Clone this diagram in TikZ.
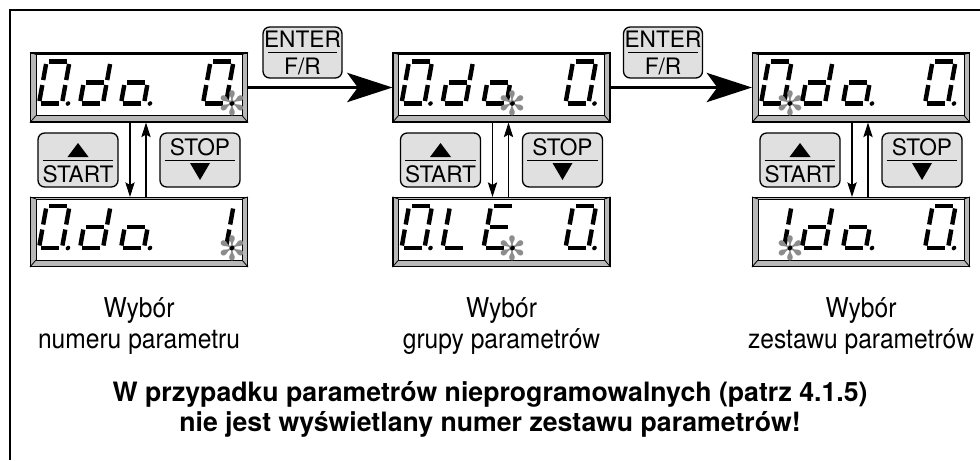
\documentclass[tikz,border=0pt]{standalone}
\usepackage{fontspec}
\setmainfont{TeX Gyre Heros}[FakeStretch=0.9]
\newfontfamily\notefont{TeX Gyre Heros}
\newfontfamily\symfont{DejaVu Sans}
\usetikzlibrary{arrows.meta}

% seven segment pieces, origin at the lower left corner of a digit
\newcommand{\segA}{\draw[seg] (2.5,-42) -- (20.5,-42);}
\newcommand{\segB}{\draw[seg] (23,-39.5) -- (23,-23.5);}
\newcommand{\segC}{\draw[seg] (23,-18.5) -- (23,-2.5);}
\newcommand{\segD}{\draw[seg] (2.5,0) -- (20.5,0);}
\newcommand{\segE}{\draw[seg] (0,-18.5) -- (0,-2.5);}
\newcommand{\segF}{\draw[seg] (0,-39.5) -- (0,-23.5);}
\newcommand{\segG}{\draw[seg] (2.5,-21) -- (20.5,-21);}
\newcommand{\dgZero}{\segA\segB\segC\segD\segE\segF}
\newcommand{\dgOne}{\segB\segC}
\newcommand{\dgD}{\segB\segC\segD\segE\segG}
\newcommand{\dgO}{\segC\segD\segE\segG}
\newcommand{\dgL}{\segD\segE\segF}
\newcommand{\dgE}{\segA\segD\segE\segF\segG}
\newcommand{\dgDot}{\fill (29,0) circle (2.3);}
\newcommand{\dgBlink}{\node[blink] at (29,0) {✻}; \fill (29,0) circle (2.3);}

% five characters of a display node
\newcommand{\lcd}[2]{%
  \foreach \dgt [count=\i from 0] in {#2} {
    \begin{scope}[shift={(#1.south west)}, shift={(9+41*\i,-19)}, xslant=0.18]
      \dgt
    \end{scope}
  }}

% grey bevel round the glass of a display node
\newcommand{\bezel}[1]{%
  \draw[bevel, fill=white] ([shift={(6,-7)}]#1.south west) rectangle ([shift={(-6,2)}]#1.north east);
  \draw[bevel] (#1.south west) -- ([shift={(6,-7)}]#1.south west)
    (#1.south east) -- ([shift={(-6,-7)}]#1.south east)
    (#1.north west) -- ([shift={(6,2)}]#1.north west)
    (#1.north east) -- ([shift={(-6,2)}]#1.north east);}

\begin{document}
\begin{tikzpicture}[x=0.75pt,y=-0.75pt]
    \tikzstyle{display}=[draw, line width=0.8pt, fill=black!28, minimum width=162.75pt, minimum height=51.75pt, inner sep=0pt]
    \tikzstyle{bevel}=[line width=0.6pt]
    \tikzstyle{key}=[draw, line width=1pt, rounded corners=5pt, fill=black!12, minimum width=60pt, minimum height=40.5pt]
    \tikzstyle{keyline}=[line width=0.7pt]
    \tikzstyle{keytext}=[font=\fontsize{17}{17}\selectfont\notefont, inner sep=0pt]
    \tikzstyle{seg}=[line width=3.3pt]
    \tikzstyle{blink}=[text=black!45, font=\fontsize{25}{25}\selectfont\symfont, inner sep=0pt]
    \tikzstyle{step arrow}=[-{Stealth[length=11pt,width=7pt,inset=2pt]}, line width=0.8pt]
    \tikzstyle{enter arrow}=[-{Stealth[length=34pt,width=22pt,inset=8pt]}, line width=1.6pt]
    \tikzstyle{caption}=[align=center, font=\fontsize{20.5}{23.5}\selectfont]
    \tikzstyle{note}=[align=center, font=\fontsize{20}{22.5}\selectfont\notefont\bfseries]
    \useasboundingbox (0,0) rectangle (980,460);
    % frame, only its left and top edge are in the picture
    \draw[line width=1.3pt] (10,460) -- (10,10) -- (980,10);
    % Draw the three columns: two displays and the START / STOP keys
    \foreach \c/\x in {1/139, 2/501.5, 3/861} {
        \node[display] (t\c) at (\x,87.5) {};
        \node[display] (b\c) at (\x,232) {};
        \bezel{t\c}
        \bezel{b\c}
        \node[key] (up\c) at (\x-61,160) {};
        \node[key] (dn\c) at (\x+61,160) {};
        \draw[keyline] ([xshift=4pt]up\c.west) -- ([xshift=-4pt]up\c.east);
        \draw[keyline] ([xshift=4pt]dn\c.west) -- ([xshift=-4pt]dn\c.east);
        \fill ([shift={(0,-17)}]up\c.center) -- ([shift={(10.5,-3)}]up\c.center) -- ([shift={(-10.5,-3)}]up\c.center) -- cycle;
        \node[keytext] (st\c) at ([shift={(0,14)}]up\c.center) {START};
        \node[keytext] (sp\c) at ([shift={(0,-12.5)}]dn\c.center) {STOP};
        \fill ([shift={(0,20)}]dn\c.center) -- ([shift={(10,3)}]dn\c.center) -- ([shift={(-10,3)}]dn\c.center) -- cycle;
        % up and down between the displays
        \draw[step arrow] ([shift={(-9,0)}]t\c.south) -- ([shift={(-9,0)}]b\c.north);
        \draw[step arrow] ([shift={(7,0)}]b\c.north) -- ([shift={(7,0)}]t\c.south);
    }
    % Draw the ENTER keys
    \foreach \e/\x in {1/302.5, 2/663} {
        \node[key, minimum width=59.25pt, minimum height=38.25pt] (ent\e) at (\x,52.5) {};
        \draw[keyline] ([xshift=4pt]ent\e.west) -- ([xshift=-4pt]ent\e.east);
        \node[keytext] (et\e) at ([shift={(0,-13)}]ent\e.center) {ENTER};
        \node[keytext] (fr\e) at ([shift={(0,14)}]ent\e.center) {F/R};
    }
    \draw[enter arrow] (t1) -- (t2);
    \draw[enter arrow] (t2) -- (t3);
    % display contents
    \lcd{t1}{{\dgZero\dgDot}, \dgD, {\dgO\dgDot}, {}, {\dgZero\dgBlink}}
    \lcd{b1}{{\dgZero\dgDot}, \dgD, {\dgO\dgDot}, {}, {\dgOne\dgBlink}}
    \lcd{t2}{{\dgZero\dgDot}, \dgD, {\dgO\dgBlink}, {}, {\dgZero\dgDot}}
    \lcd{b2}{{\dgZero\dgDot}, \dgL, {\dgE\dgBlink}, {}, {\dgZero\dgDot}}
    \lcd{t3}{{\dgZero\dgBlink}, \dgD, {\dgO\dgDot}, {}, {\dgZero\dgDot}}
    \lcd{b3}{{\dgOne\dgBlink}, \dgD, {\dgO\dgDot}, {}, {\dgZero\dgDot}}
    % Annotate the columns
    \node[caption] (lab1) at (139,326) {Wybór\\numeru parametru};
    \node[caption] (lab2) at (501.5,326) {Wybór\\grupy parametrów};
    \node[caption] (lab3) at (861,326) {Wybór\\zestawu parametrów};
    \node[note] (note) at (490,409) {W przypadku parametrów nieprogramowalnych (patrz 4.1.5)\\nie jest wyświetlany numer zestawu parametrów!};
\end{tikzpicture}
\end{document}
